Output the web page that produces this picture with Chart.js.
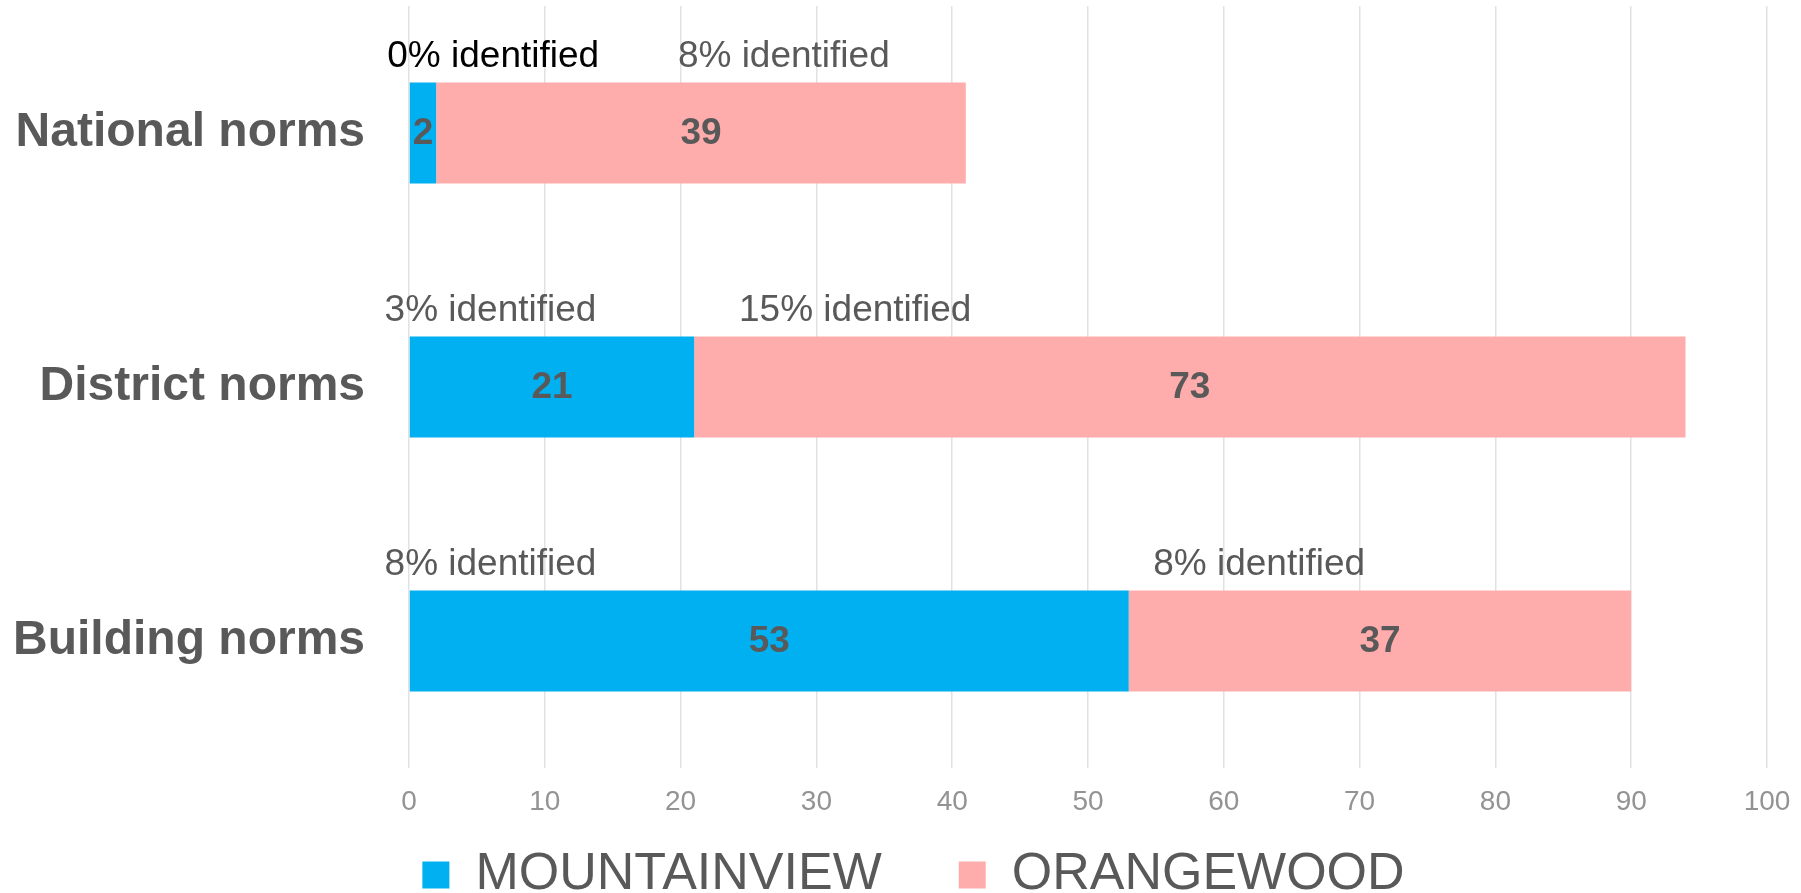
<!DOCTYPE html>
<html>
<head>
<meta charset="utf-8">
<script src="https://cdn.jsdelivr.net/npm/chart.js@4.4.0/dist/chart.umd.min.js"></script>
<style>
  html, body { margin: 0; padding: 0; background: #fff; }
  #wrap { width: 1801px; height: 893px; }
</style>
</head>
<body>
<div id="wrap"><canvas id="chart" width="1801" height="893"></canvas></div>
<script>
  // Chart data
  const categories = ['National norms', 'District norms', 'Building norms'];
  const mountainview = [2, 21, 53];
  const orangewood = [39, 73, 37];
  const mountainviewIdentified = ['0%', '3%', '8%'];
  const orangewoodIdentified = ['8%', '15%', '8%'];

  const FONT = 'Arial, "Liberation Sans", sans-serif';
  const TEXT_GREY = '#595959';

  Chart.defaults.font.family = FONT;

  // Values inside the segments and the "identified" notes above them
  const barText = {
    id: 'barText',
    afterDatasetsDraw(chart, args, opts) {
      const ctx = chart.ctx;
      const xScale = chart.scales.x;
      chart.data.datasets.forEach((ds, di) => {
        const meta = chart.getDatasetMeta(di);
        meta.data.forEach((bar, i) => {
          const p = bar.getProps(['x', 'y', 'base', 'height'], true);
          const top = p.y - p.height / 2;
          ctx.save();
          ctx.fillStyle = TEXT_GREY;
          ctx.font = `bold 37px ${FONT}`;
          ctx.textAlign = 'center';
          ctx.textBaseline = 'middle';
          ctx.fillText(ds.data[i], (p.x + p.base) / 2, p.y + 1);

          ctx.font = `37px ${FONT}`;
          ctx.textAlign = 'left';
          ctx.textBaseline = 'alphabetic';
          ctx.fillStyle = opts.noteColors[di][i];
          ctx.fillText(`${ds.notes[i]} identified`, xScale.getPixelForValue(opts.noteAt[di][i]), top - 15);
          ctx.restore();
        });
      });
    }
  };

  // Nudge the legend so it sits where the original one does
  const legendShift = {
    id: 'legendShift',
    afterLayout(chart, args, opts) {
      const lg = chart.legend;
      if (!lg) return;
      lg.left += opts.dx;
      lg.right += opts.dx;
      lg.top += opts.dy;
      lg.bottom = chart.height; // legend clips to its own box
    }
  };

  new Chart(document.getElementById('chart'), {
    type: 'bar',
    data: {
      labels: categories,
      datasets: [
        {
          label: 'MOUNTAINVIEW',
          data: mountainview,
          notes: mountainviewIdentified,
          backgroundColor: '#00B0F0',
          barPercentage: 0.398,
          categoryPercentage: 1.0
        },
        {
          label: 'ORANGEWOOD',
          data: orangewood,
          notes: orangewoodIdentified,
          backgroundColor: '#FFACAC',
          barPercentage: 0.398,
          categoryPercentage: 1.0
        }
      ]
    },
    options: {
      indexAxis: 'y',
      responsive: false,
      animation: false,
      devicePixelRatio: 1,
      layout: {
        padding: { top: 6, right: 34, bottom: 0, left: 0 }
      },
      scales: {
        x: {
          stacked: true,
          min: 0,
          max: 100,
          ticks: {
            stepSize: 10,
            color: '#939393',
            font: { size: 28 },
            padding: 17
          },
          grid: {
            color: '#e2e2e2',
            lineWidth: 1.5,
            drawTicks: false
          },
          border: { display: false },
          afterFit(scale) {
            scale.height = 65;
            scale.paddingLeft = 0;
            scale.paddingRight = 0;
          }
        },
        y: {
          stacked: true,
          ticks: {
            color: TEXT_GREY,
            font: { size: 48, weight: 'bold' },
            padding: 44
          },
          grid: { display: false, drawTicks: false },
          border: { display: false },
          afterFit(scale) {
            scale.width = 409;
            scale.paddingTop = 0;
            scale.paddingBottom = 0;
          }
        }
      },
      plugins: {
        legend: {
          position: 'bottom',
          maxHeight: 60,
          labels: {
            boxWidth: 27,
            boxHeight: 27,
            padding: 77,
            color: TEXT_GREY,
            font: { size: 52 }
          }
        },
        tooltip: { enabled: false },
        legendShift: { dx: 30, dy: -61 },
        barText: {
          noteAt: [[-1.6, -1.8, -1.8], [19.8, 24.3, 54.8]],
          noteColors: [['#000000', TEXT_GREY, TEXT_GREY], [TEXT_GREY, TEXT_GREY, TEXT_GREY]]
        }
      }
    },
    plugins: [barText, legendShift]
  });
</script>
</body>
</html>
